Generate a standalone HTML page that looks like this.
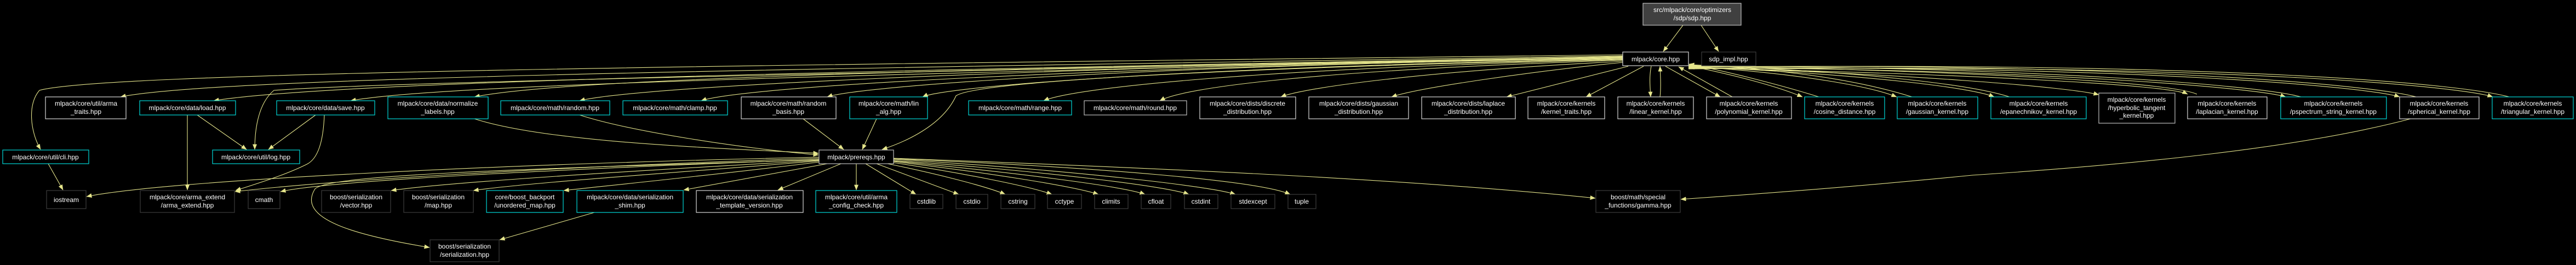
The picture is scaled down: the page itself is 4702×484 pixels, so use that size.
<!DOCTYPE html>
<html><head><meta charset="utf-8"><style>
html,body{margin:0;padding:0;background:#000;}
svg{display:block;}
text{font-family:"Liberation Sans",sans-serif;font-size:12px;fill:#fff;text-anchor:middle;}
.e{fill:none;stroke:#e6e68c;stroke-width:1.1;}
.c{fill:#000;stroke:#00d8d8;stroke-width:1.2;}
.w{fill:#000;stroke:#d8d8d8;stroke-width:1.2;}
.g{fill:#000;stroke:#3c3c3c;stroke-width:1.2;}
.l{fill:#000;stroke:#bfbfbf;stroke-width:1.2;}
</style></head><body>
<svg width="4702" height="484" viewBox="0 0 4702 484" xmlns="http://www.w3.org/2000/svg">
<defs><marker id="a" markerWidth="10" markerHeight="8" refX="9.5" refY="4" orient="auto" markerUnits="userSpaceOnUse"><path d="M0,0 L10,4 L0,8 z" fill="#e6e68c"/></marker></defs>
<g marker-end="url(#a)">
<!-- sdp -->
<path class="e" d="M3072,46 L3036,94"/>
<path class="e" d="M3105,46 L3137,94"/>
<!-- core to left -->
<path class="e" d="M2962,100 C1500,118 200,130 72,165 C50,190 55,240 74,273"/>
<path class="e" d="M2962,102 C1500,125 400,140 220,177"/>
<path class="e" d="M2962,103 C1500,130 600,150 390,184"/>
<path class="e" d="M2962,104 C1500,135 700,150 500,165 C470,190 465,240 465,273"/>
<path class="e" d="M2962,104 C1500,138 800,155 640,184"/>
<path class="e" d="M2962,105 C1500,128 1000,150 866,177"/>
<path class="e" d="M2962,105 C1800,125 1150,160 1058,184"/>
<path class="e" d="M2962,106 C1900,125 1350,160 1280,184"/>
<path class="e" d="M2962,106 C2000,122 1560,160 1510,177"/>
<path class="e" d="M2962,107 C2100,125 1720,160 1684,177"/>
<path class="e" d="M2962,108 C2200,125 1780,150 1745,175 C1720,230 1650,260 1610,273"/>
<path class="e" d="M2962,109 C2300,125 1960,160 1905,184"/>
<path class="e" d="M2962,110 C2400,128 2160,160 2117,184"/>
<path class="e" d="M2962,112 C2600,130 2380,160 2338,177"/>
<path class="e" d="M2962,114 C2800,130 2590,160 2540,177"/>
<path class="e" d="M2972,121 L2750,177"/>
<path class="e" d="M3000,121 L2895,177"/>
<path class="e" d="M3014,121 C3010,140 3012,160 3013,177"/>
<path class="e" d="M3030,177 C3032,160 3031,140 3030,121"/>
<path class="e" d="M3040,121 L3140,177"/>
<path class="e" d="M3162,177 L3064,122"/>
<!-- core to right -->
<path class="e" d="M3082,120 C3180,140 3250,160 3290,177"/>
<path class="e" d="M3320,177 C3250,155 3150,130 3083,117"/>
<path class="e" d="M3082,121 C3300,135 3420,160 3462,177"/>
<path class="e" d="M3490,177 C3420,155 3300,128 3083,118"/>
<path class="e" d="M3082,122 C3400,135 3600,160 3640,177"/>
<path class="e" d="M3668,177 C3600,155 3400,130 3083,119"/>
<path class="e" d="M3082,123 C3500,135 3780,160 3831,173"/>
<path class="e" d="M3082,124 C3600,135 3960,155 3993,172"/>
<path class="e" d="M4010,172 C3960,150 3600,130 3083,120"/>
<path class="e" d="M3082,124 C3700,125 4120,160 4172,177"/>
<path class="e" d="M4200,177 C4120,155 3700,122 3083,121"/>
<path class="e" d="M3082,125 C3900,118 4330,160 4380,177"/>
<path class="e" d="M4410,177 C4330,155 3900,115 3083,122"/>
<path class="e" d="M3082,126 C4100,115 4500,160 4550,177"/>
<path class="e" d="M4580,177 C4500,155 4100,112 3083,123"/>
<!-- mid edges -->
<path class="e" d="M360,210 L450,273"/>
<path class="e" d="M342,210 L342,347"/>
<path class="e" d="M576,210 L490,273"/>
<path class="e" d="M592,210 C590,260 580,290 560,300 C520,320 470,335 430,348"/>
<path class="e" d="M866,217 C1000,260 1300,270 1494,280"/>
<path class="e" d="M1058,210 C1150,240 1350,270 1494,283"/>
<path class="e" d="M1466,217 L1540,273"/>
<path class="e" d="M1600,217 L1574,273"/>
<path class="e" d="M88,299 L115,347"/>
<!-- prereqs to bottom -->
<path class="e" d="M1495,287 C900,300 300,330 158,359"/>
<path class="e" d="M1495,289 C1000,305 600,330 429,350"/>
<path class="e" d="M1495,291 C1000,310 600,330 512,350"/>
<path class="e" d="M1495,293 C1100,315 800,335 714,348"/>
<path class="e" d="M1495,294 C1200,318 950,335 864,348"/>
<path class="e" d="M1495,296 C1300,320 1100,340 1029,348"/>
<path class="e" d="M1495,292 C900,310 600,320 575,345 C540,400 650,430 784,452"/>
<path class="e" d="M1510,299 L1248,347"/>
<path class="e" d="M1535,299 L1420,347"/>
<path class="e" d="M1563,299 L1563,347"/>
<path class="e" d="M1580,299 L1672,355"/>
<path class="e" d="M1600,299 L1750,355"/>
<path class="e" d="M1615,298 C1700,315 1800,340 1835,355"/>
<path class="e" d="M1631,297 C1750,315 1880,340 1920,355"/>
<path class="e" d="M1631,295 C1800,315 1960,340 2005,355"/>
<path class="e" d="M1631,294 C1850,315 2050,340 2090,355"/>
<path class="e" d="M1631,293 C1900,312 2130,340 2170,355"/>
<path class="e" d="M1631,291 C1950,310 2210,340 2255,355"/>
<path class="e" d="M1631,290 C2000,305 2300,330 2355,355"/>
<path class="e" d="M1631,289 C2200,310 2600,330 2912,362"/>
<path class="e" d="M1085,388 L912,438"/>
<path class="e" d="M4400,217 C4200,270 3900,300 3600,320 C3400,340 3200,355 3068,364"/>
</g>
<!-- nodes -->
<rect class="l" x="2999" y="6" width="179" height="40" style="fill:#404040"/><text x="3089" y="22">src/mlpack/core/optimizers</text><text x="3089" y="37">/sdp/sdp.hpp</text>
<rect class="w" x="2962" y="95" width="120" height="25"/><text x="3022" y="112">mlpack/core.hpp</text>
<rect class="g" x="3106" y="95" width="99" height="25"/><text x="3155" y="112">sdp_impl.hpp</text>

<rect class="w" x="83" y="177" width="147" height="40"/><text x="157" y="193">mlpack/core/util/arma</text><text x="157" y="208">_traits.hpp</text>
<rect class="c" x="255" y="184" width="175" height="26"/><text x="342" y="201">mlpack/core/data/load.hpp</text>
<rect class="c" x="505" y="184" width="179" height="26"/><text x="594" y="201">mlpack/core/data/save.hpp</text>
<rect class="c" x="708" y="177" width="183" height="40"/><text x="799" y="193">mlpack/core/data/normalize</text><text x="799" y="208">_labels.hpp</text>
<rect class="c" x="914" y="184" width="199" height="26"/><text x="1013" y="201">mlpack/core/math/random.hpp</text>
<rect class="c" x="1137" y="184" width="191" height="26"/><text x="1232" y="201">mlpack/core/math/clamp.hpp</text>
<rect class="w" x="1353" y="177" width="173" height="40"/><text x="1439" y="193">mlpack/core/math/random</text><text x="1439" y="208">_basis.hpp</text>
<rect class="c" x="1551" y="177" width="142" height="40"/><text x="1622" y="193">mlpack/core/math/lin</text><text x="1622" y="208">_alg.hpp</text>
<rect class="c" x="1768" y="184" width="188" height="26"/><text x="1862" y="201">mlpack/core/math/range.hpp</text>
<rect class="l" x="1979" y="184" width="187" height="26"/><text x="2072" y="201">mlpack/core/math/round.hpp</text>
<rect class="w" x="2190" y="177" width="175" height="40"/><text x="2277" y="193">mlpack/core/dists/discrete</text><text x="2277" y="208">_distribution.hpp</text>
<rect class="w" x="2389" y="177" width="182" height="40"/><text x="2480" y="193">mlpack/core/dists/gaussian</text><text x="2480" y="208">_distribution.hpp</text>
<rect class="w" x="2595" y="177" width="171" height="40"/><text x="2680" y="193">mlpack/core/dists/laplace</text><text x="2680" y="208">_distribution.hpp</text>
<rect class="w" x="2789" y="177" width="140" height="40"/><text x="2859" y="193">mlpack/core/kernels</text><text x="2859" y="208">/kernel_traits.hpp</text>
<rect class="w" x="2953" y="177" width="138" height="40"/><text x="3022" y="193">mlpack/core/kernels</text><text x="3022" y="208">/linear_kernel.hpp</text>
<rect class="w" x="3115" y="177" width="155" height="40"/><text x="3192" y="193">mlpack/core/kernels</text><text x="3192" y="208">/polynomial_kernel.hpp</text>
<rect class="c" x="3294" y="177" width="146" height="40"/><text x="3367" y="193">mlpack/core/kernels</text><text x="3367" y="208">/cosine_distance.hpp</text>
<rect class="c" x="3463" y="177" width="147" height="40"/><text x="3536" y="193">mlpack/core/kernels</text><text x="3536" y="208">/gaussian_kernel.hpp</text>
<rect class="c" x="3634" y="177" width="174" height="40"/><text x="3721" y="193">mlpack/core/kernels</text><text x="3721" y="208">/epanechnikov_kernel.hpp</text>
<rect class="l" x="3831" y="170" width="139" height="55"/><text x="3900" y="186">mlpack/core/kernels</text><text x="3900" y="201">/hyperbolic_tangent</text><text x="3900" y="215">_kernel.hpp</text>
<rect class="w" x="3993" y="177" width="145" height="40"/><text x="4065" y="193">mlpack/core/kernels</text><text x="4065" y="208">/laplacian_kernel.hpp</text>
<rect class="c" x="4163" y="177" width="193" height="40"/><text x="4259" y="193">mlpack/core/kernels</text><text x="4259" y="208">/pspectrum_string_kernel.hpp</text>
<rect class="w" x="4380" y="177" width="145" height="40"/><text x="4452" y="193">mlpack/core/kernels</text><text x="4452" y="208">/spherical_kernel.hpp</text>
<rect class="c" x="4549" y="177" width="148" height="40"/><text x="4623" y="193">mlpack/core/kernels</text><text x="4623" y="208">/triangular_kernel.hpp</text>

<rect class="c" x="5" y="274" width="157" height="25"/><text x="83" y="291">mlpack/core/util/cli.hpp</text>
<rect class="c" x="388" y="274" width="159" height="25"/><text x="467" y="291">mlpack/core/util/log.hpp</text>
<rect class="l" x="1495" y="274" width="136" height="25"/><text x="1563" y="291">mlpack/prereqs.hpp</text>

<rect class="g" x="85" y="348" width="72" height="33"/><text x="121" y="369">iostream</text>
<rect class="g" x="256" y="348" width="172" height="40"/><text x="342" y="364">mlpack/core/arma_extend</text><text x="342" y="379">/arma_extend.hpp</text>
<rect class="g" x="453" y="348" width="58" height="33"/><text x="482" y="369">cmath</text>
<rect class="g" x="587" y="348" width="126" height="40"/><text x="650" y="364">boost/serialization</text><text x="650" y="379">/vector.hpp</text>
<rect class="g" x="737" y="348" width="127" height="40"/><text x="800" y="364">boost/serialization</text><text x="800" y="379">/map.hpp</text>
<rect class="c" x="888" y="348" width="140" height="40"/><text x="958" y="364">core/boost_backport</text><text x="958" y="379">/unordered_map.hpp</text>
<rect class="c" x="1053" y="348" width="194" height="40"/><text x="1150" y="364">mlpack/core/data/serialization</text><text x="1150" y="379">_shim.hpp</text>
<rect class="w" x="1271" y="348" width="195" height="40"/><text x="1368" y="364">mlpack/core/data/serialization</text><text x="1368" y="379">_template_version.hpp</text>
<rect class="c" x="1489" y="348" width="148" height="40"/><text x="1563" y="364">mlpack/core/util/arma</text><text x="1563" y="379">_config_check.hpp</text>
<rect class="g" x="1661" y="355" width="60" height="26"/><text x="1691" y="372">cstdlib</text>
<rect class="g" x="1745" y="355" width="58" height="26"/><text x="1774" y="372">cstdio</text>
<rect class="g" x="1827" y="355" width="62" height="26"/><text x="1858" y="372">cstring</text>
<rect class="g" x="1912" y="355" width="62" height="26"/><text x="1943" y="372">cctype</text>
<rect class="g" x="1998" y="355" width="61" height="26"/><text x="2028" y="372">climits</text>
<rect class="g" x="2083" y="355" width="54" height="26"/><text x="2110" y="372">cfloat</text>
<rect class="g" x="2162" y="355" width="61" height="26"/><text x="2192" y="372">cstdint</text>
<rect class="g" x="2247" y="355" width="80" height="26"/><text x="2287" y="372">stdexcept</text>
<rect class="g" x="2351" y="355" width="51" height="26"/><text x="2376" y="372">tuple</text>
<rect class="g" x="2913" y="348" width="154" height="40"/><text x="2990" y="364">boost/math/special</text><text x="2990" y="379">_functions/gamma.hpp</text>
<rect class="g" x="785" y="438" width="126" height="40"/><text x="848" y="454">boost/serialization</text><text x="848" y="469">/serialization.hpp</text>
</svg>
</body></html>
